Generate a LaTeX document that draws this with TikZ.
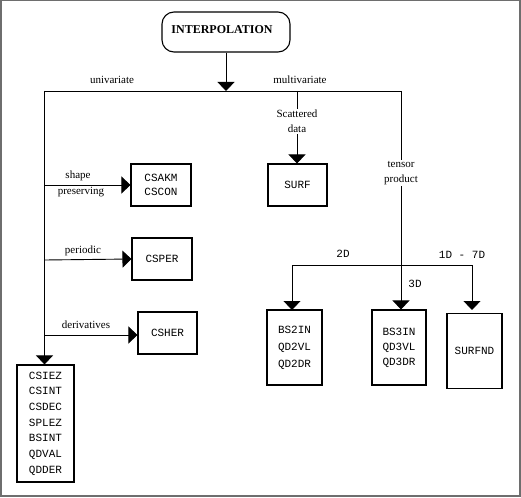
\documentclass[tikz,border=0pt]{standalone}
\usepackage{fontspec}
\setmainfont{Liberation Serif}
\setmonofont{Liberation Mono}
\usetikzlibrary{arrows.meta}
\definecolor{framegray}{RGB}{110,110,110}
\begin{document}
\begin{tikzpicture}[x=1pt,y=-1pt,
  line width=0.9pt,
  tip/.style={-{Triangle[width=17pt,length=9pt]}},
  codebox/.style={draw,line width=1.1pt,inner sep=0pt,align=center,font=\ttfamily\fontsize{11}{15.7}\selectfont},
  lbl/.style={font=\fontsize{11}{15}\selectfont,inner sep=1pt},
  mlbl/.style={font=\ttfamily\fontsize{11}{15}\selectfont,inner sep=1pt},
  cut/.style={fill=white,align=center,font=\fontsize{11}{15}\selectfont,inner sep=1pt}]
\useasboundingbox (0,0) rectangle (521,497);
\draw[framegray,line width=1.5pt] (0.75,0.75) rectangle (520,496);
% top node
\node[draw,line width=1.1pt,rounded corners=12pt,minimum width=128pt,minimum height=40pt,inner sep=0pt] (interp) at (226,32) {};
\node[font=\bfseries\fontsize{12}{14}\selectfont,inner sep=0pt] (interpt) at (222,30) {INTERPOLATION};
% boxes
\node[codebox,minimum width=60pt,minimum height=42pt,font=\ttfamily\fontsize{11}{14}\selectfont] (csakm) at (161,185) {CSAKM\\CSCON};
\node[codebox,minimum width=59pt,minimum height=42pt] (surf) at (297.5,185) {SURF};
\node[codebox,minimum width=60pt,minimum height=42pt] (csper) at (162,259) {CSPER};
\node[codebox,minimum width=59pt,minimum height=42pt] (csher) at (167.5,333) {CSHER};
\node[codebox,minimum width=57pt,minimum height=117pt] (csiez) at (45.5,423.5) {CSIEZ\\CSINT\\CSDEC\\SPLEZ\\BSINT\\QDVAL\\QDDER};
\node[codebox,minimum width=55pt,minimum height=75pt,font=\ttfamily\fontsize{11}{17}\selectfont] (bs2in) at (294.5,347.5) {BS2IN\\QD2VL\\QD2DR};
\node[codebox,minimum width=54pt,minimum height=75pt,font=\ttfamily\fontsize{11}{15}\selectfont] (bs3in) at (399,347.5) {BS3IN\\QD3VL\\QD3DR};
\node[codebox,minimum width=55pt,minimum height=75pt] (surfnd) at (474.5,351) {SURFND};
% junctions
\coordinate (j0) at (226,91);
\coordinate (jl) at (44.5,91);
\coordinate (jr) at (401,91);
\coordinate (js) at (297,91);
\coordinate (b1) at (44.5,185);
\coordinate (b2) at (44.5,260);
\coordinate (b3) at (44.5,335);
\coordinate (t2) at (292,265);
\coordinate (t7) at (472,265);
\coordinate (t2e) at (292,310);
\coordinate (t7e) at (472,310);
% connectors
\draw[tip] (interp.south) -- (j0);
\draw (jl) -- (jr);
\draw[tip] (jl) -- (jl |- csiez.north);
\draw[tip] (b1) -- (csakm.west);
\draw[tip] (b2) -- (csper.west);
\draw[tip] (b3) -- (b3 -| csher.west);
\draw[tip] (js) -- (js |- surf.north);
\draw[tip] (jr) -- (jr |- bs3in.north);
\draw (t2) -- (t7);
\draw[tip] (t2) -- (t2e);
\draw[tip] (t7) -- (t7e);
% labels on lines
\node[cut] (scat) at (297,121.5) {Scattered\\data};
\node[cut] (tens) at (401,173) {tensor\\product};
\node[lbl] (uni) at (112,80) {univariate};
\node[lbl] (multi) at (300,80) {multivariate};
\node[lbl] (shape) at (78,176) {shape};
\node[lbl] (pres) at (81,192) {preserving};
\node[lbl] (peri) at (83,251) {periodic};
\node[lbl] (deri) at (86,325) {derivatives};
\node[mlbl] (l2d) at (343,254) {2D};
\node[mlbl] (l3d) at (415,284) {3D};
\node[mlbl] (l17d) at (462,255) {1D - 7D};
\end{tikzpicture}
\end{document}
